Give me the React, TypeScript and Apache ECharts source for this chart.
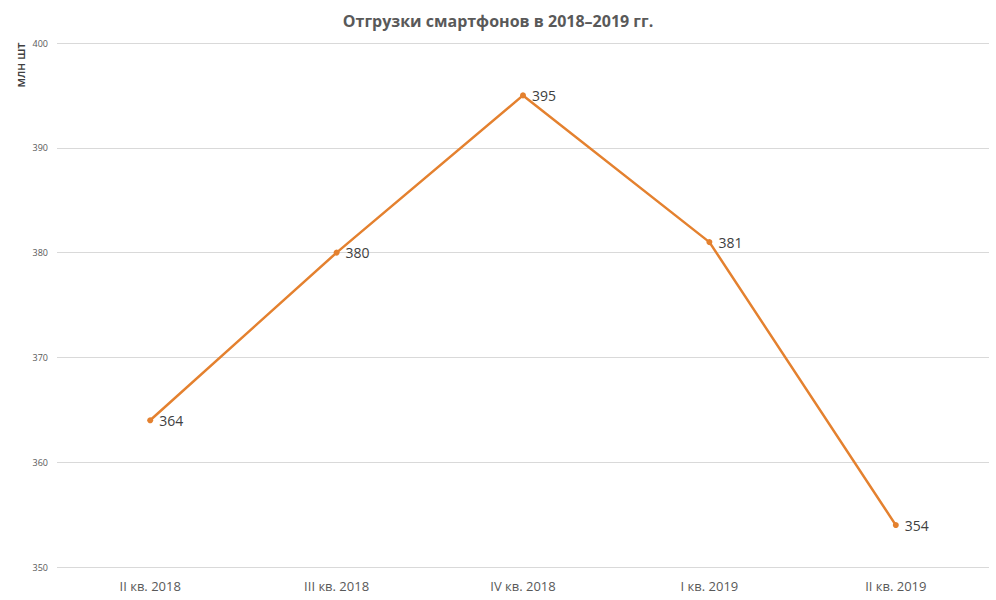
import React, { useEffect, useRef } from "react";
import * as echarts from "echarts";

const categories = ["II кв. 2018", "III кв. 2018", "IV кв. 2018", "I кв. 2019", "II кв. 2019"];
const shipments = [364, 380, 395, 381, 354];
const yMin = 350;
const yMax = 400;
const yStep = 10;

export default function App() {
  const ref = useRef<HTMLDivElement>(null);
  useEffect(() => {
    if (!ref.current) return;
    const chart = echarts.init(ref.current, null, { renderer: "svg" });
    const font = "'Open Sans', 'Liberation Sans', sans-serif";
    chart.setOption({
      animation: false,
      backgroundColor: "#ffffff",
      title: {
        text: "Отгрузки смартфонов в 2018–2019 гг.",
        left: "center",
        top: 8,
        textStyle: { fontFamily: font, fontSize: 16, fontWeight: "bold", color: "#595959" },
      },
      grid: { left: 57, right: 7, top: 43, bottom: 33, containLabel: false },
      graphic: [
        {
          type: "text",
          x: 20,
          y: 65,
          rotation: Math.PI / 2,
          style: {
            text: "млн шт",
            fontFamily: font,
            fontSize: 12,
            fontWeight: 600,
            fill: "#404040",
            align: "center",
            verticalAlign: "middle",
          },
        },
      ],
      xAxis: {
        type: "category",
        data: categories,
        boundaryGap: true,
        axisLine: { show: false },
        axisTick: { show: false },
        axisLabel: { fontFamily: font, fontSize: 13, color: "#595959", margin: 12 },
      },
      yAxis: {
        type: "value",
        min: yMin,
        max: yMax,
        interval: yStep,
        axisLine: { show: false },
        axisTick: { show: false },
        axisLabel: { fontFamily: font, fontSize: 9, color: "#595959", margin: 9 },
        splitLine: { lineStyle: { color: "#d9d9d9", width: 1 } },
      },
      series: [
        {
          type: "line",
          data: shipments,
          lineStyle: { color: "#E4812F", width: 2.5 },
          itemStyle: { color: "#E4812F" },
          symbol: "circle",
          symbolSize: 6,
          label: {
            show: true,
            position: "right",
            distance: 6,
            fontFamily: font,
            fontSize: 14,
            color: "#404040",
          },
        },
      ],
    });
    return () => chart.dispose();
  }, []);
  return <div ref={ref} style={{ width: 996, height: 600, position: "absolute", left: 0, top: 0 }} />;
}
